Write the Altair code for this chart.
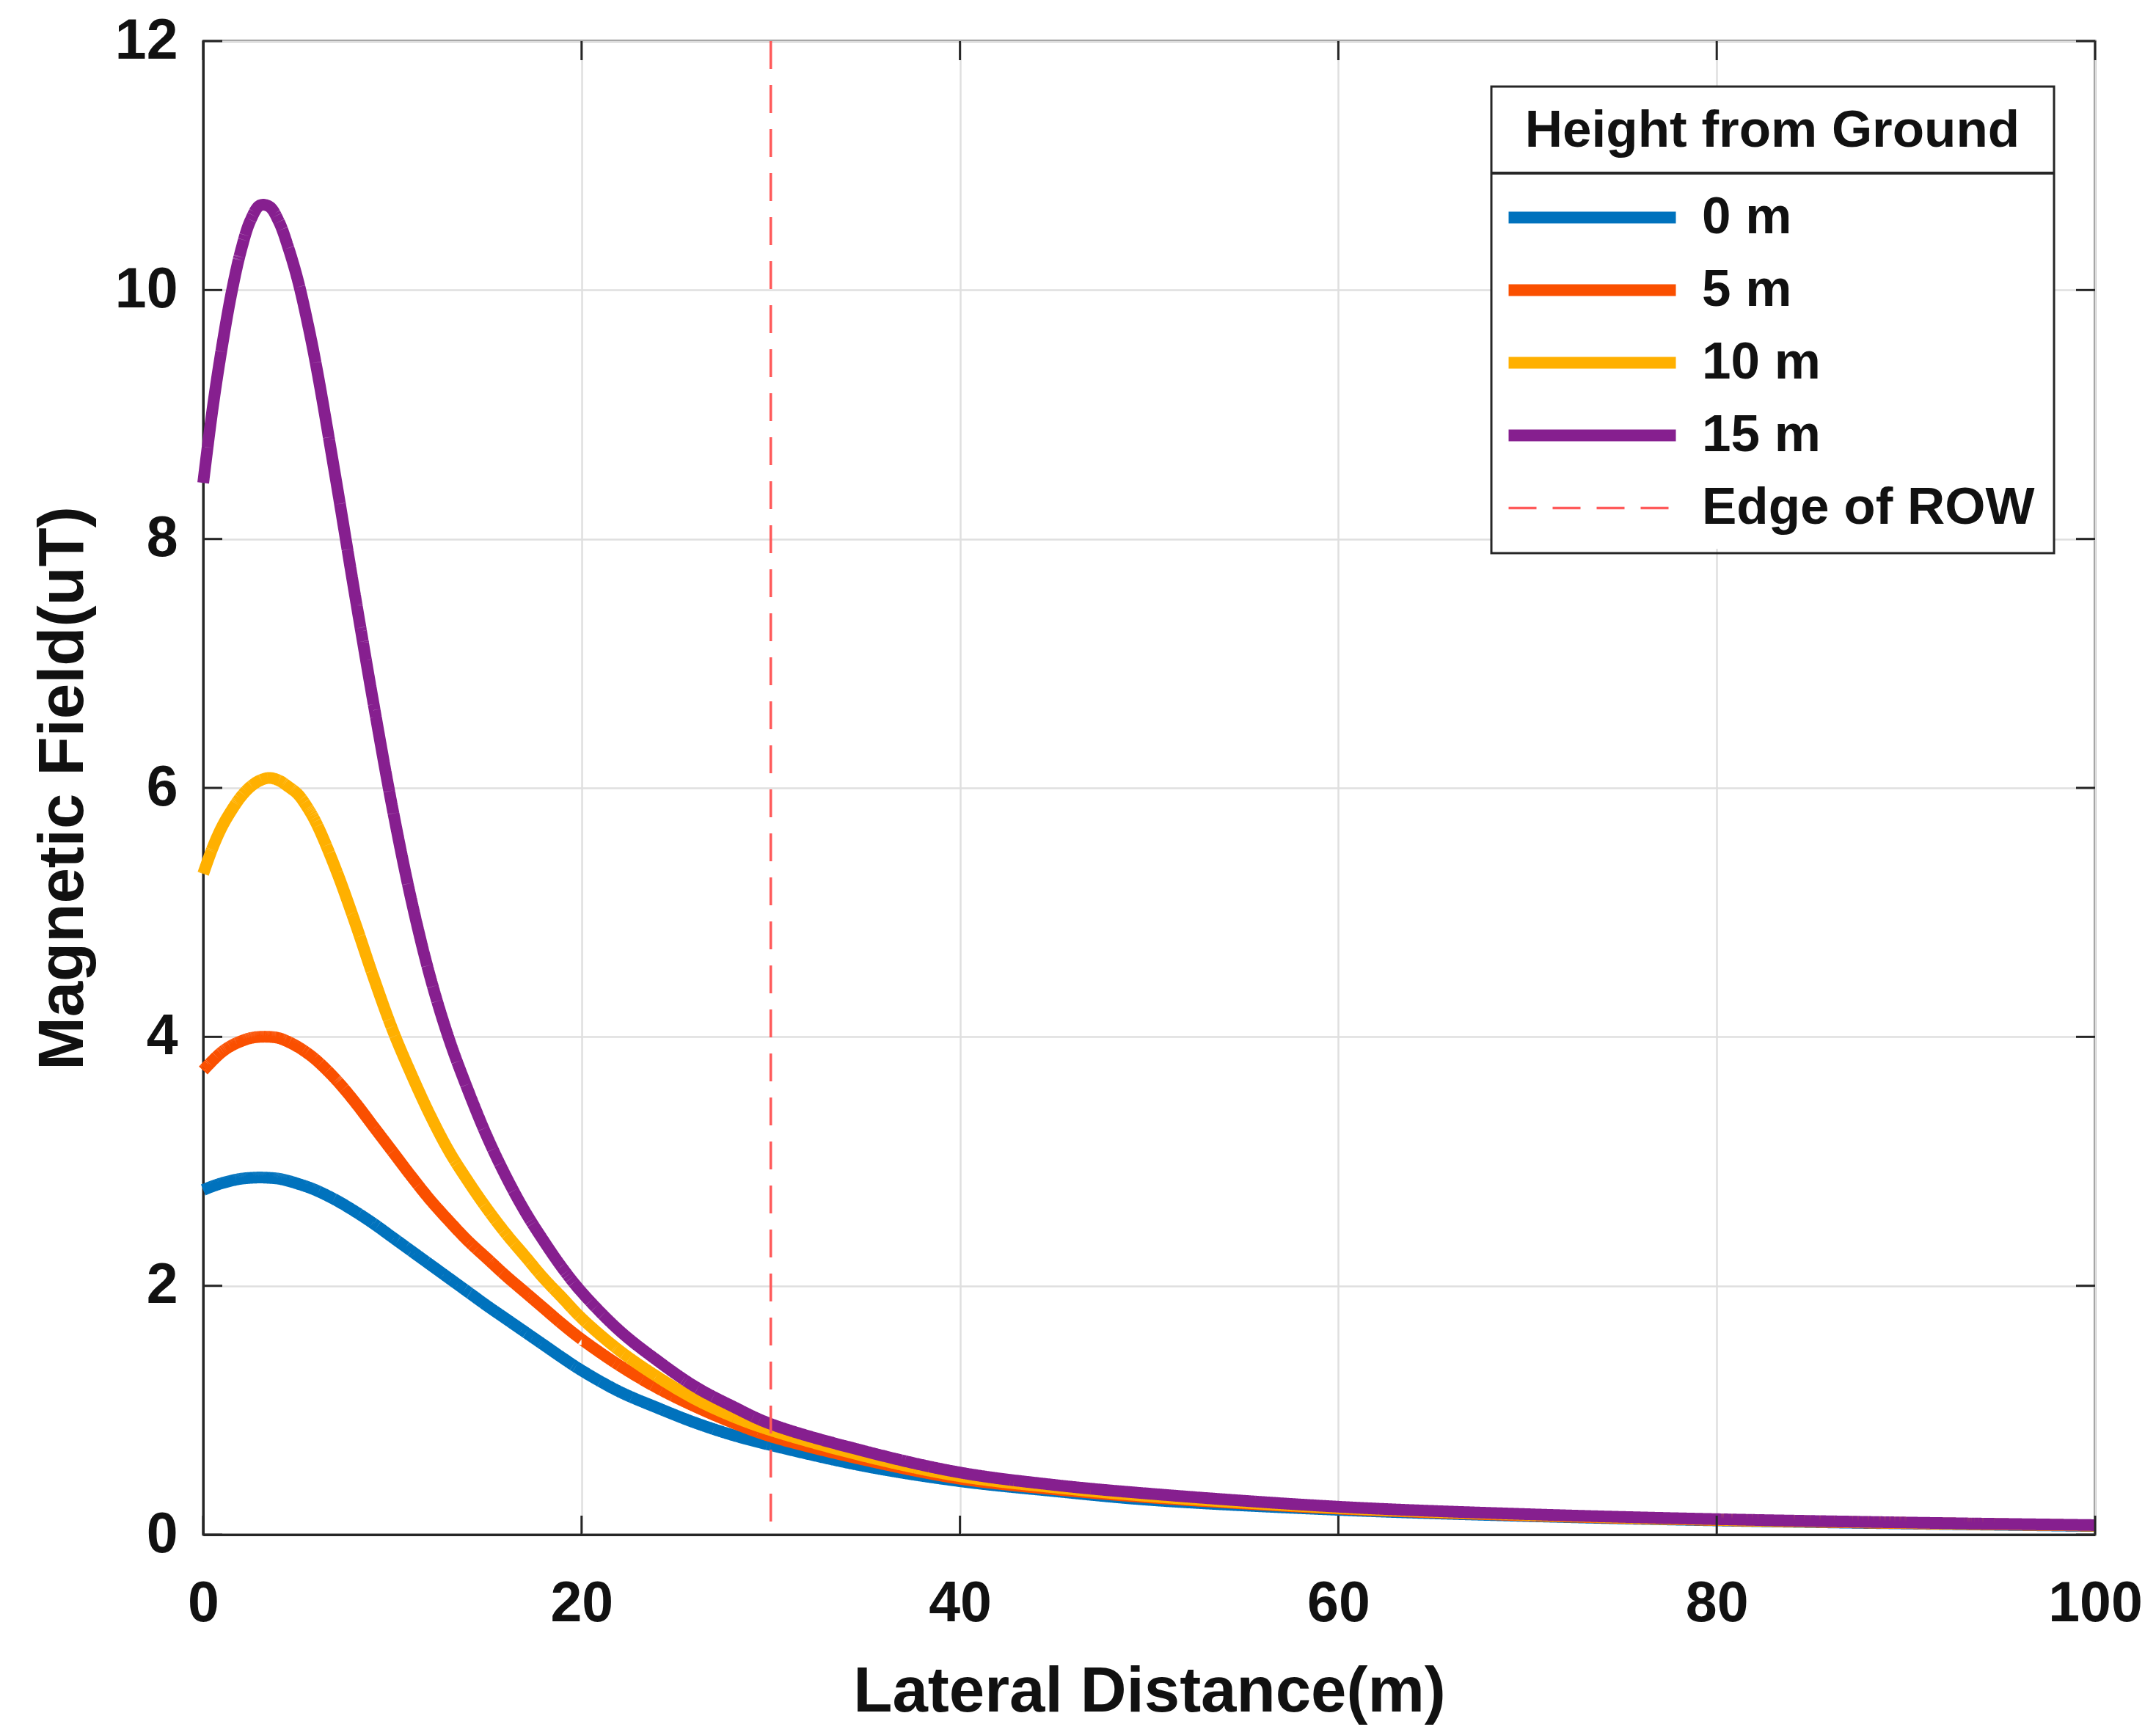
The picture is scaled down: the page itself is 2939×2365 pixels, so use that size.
import altair as alt
import pandas as pd

# ---- data ----
x_vals = [0, 0.5, 1, 1.5, 2, 2.5, 3, 3.5, 4, 4.5, 5, 5.5, 6, 7, 8, 9, 10, 11, 12, 13, 14, 15, 16, 17, 18, 19,
          20, 22, 24, 26, 28, 30, 35, 40, 45, 50, 60, 70, 80, 90, 100]

h0 = [2.77, 2.80, 2.825, 2.845, 2.86, 2.867, 2.87, 2.867, 2.86, 2.843, 2.82, 2.795, 2.765, 2.69, 2.60, 2.50, 2.39,
      2.28, 2.17, 2.06, 1.95, 1.84, 1.735, 1.63, 1.525, 1.42, 1.32, 1.15, 1.02, 0.90, 0.80, 0.72,
      0.55, 0.43, 0.35, 0.28, 0.20, 0.15, 0.115, 0.09, 0.07]
h5 = [3.73, 3.81, 3.88, 3.93, 3.965, 3.99, 4.00, 4.00, 3.99, 3.96, 3.92, 3.87, 3.81, 3.66, 3.48, 3.28, 3.08,
      2.88, 2.69, 2.52, 2.36, 2.22, 2.08, 1.95, 1.82, 1.69, 1.57, 1.36, 1.18, 1.03, 0.90, 0.79,
      0.60, 0.45, 0.365, 0.30, 0.21, 0.155, 0.118, 0.093, 0.073]
h10 = [5.31, 5.52, 5.69, 5.82, 5.93, 6.01, 6.06, 6.08, 6.06, 6.01, 5.95, 5.845, 5.71, 5.35, 4.93, 4.48, 4.06,
       3.70, 3.37, 3.08, 2.84, 2.62, 2.42, 2.24, 2.06, 1.90, 1.74, 1.48, 1.27, 1.09, 0.95, 0.84,
       0.63, 0.47, 0.38, 0.31, 0.215, 0.16, 0.12, 0.095, 0.074]
h15 = [8.45, 9.05, 9.55, 9.98, 10.32, 10.56, 10.68, 10.67, 10.55, 10.34, 10.08, 9.75, 9.37, 8.49, 7.57, 6.68, 5.84,
       5.10, 4.48, 3.98, 3.57, 3.20, 2.88, 2.60, 2.36, 2.14, 1.95, 1.64, 1.40, 1.19, 1.03, 0.89,
       0.67, 0.50, 0.40, 0.33, 0.225, 0.165, 0.125, 0.098, 0.077]

series_names = ["0 m", "5 m", "10 m", "15 m"]
series_values = [h0, h5, h10, h15]
row_name = "Edge of ROW"
row_x = [30]

x_ticks = [0, 20, 40, 60, 80, 100]
y_ticks = [0, 2, 4, 6, 8, 10, 12]

legend_domain = series_names + [row_name]
legend_colors = ["#0072BD", "#FA4F00", "#FFB000", "#861F8F", "#FF5A5A"]
legend_dashes = [[1, 0], [1, 0], [1, 0], [1, 0], [38, 22]]

W, H = 2579, 2036
FONT = "Liberation Sans"
INK = "#111111"
LINE_W = 16
ROW_W = 3.5

rows = []
for name, vals in zip(series_names, series_values):
    for xv, yv in zip(x_vals, vals):
        rows.append({"x": xv, "y": yv, "series": name})
df = pd.DataFrame(rows)
df_row = pd.DataFrame({"x": row_x, "series": [row_name]})
df_xt = pd.DataFrame({"t": x_ticks})
df_yt = pd.DataFrame({"t": y_ticks})

xscale = alt.Scale(domain=[0, 100], nice=False, zero=False)
yscale = alt.Scale(domain=[0, 12], nice=False, zero=False)

LX, LY, LW, LH = 1756, 62, 766, 630

legend = alt.Legend(
    title="Height from Ground",
    orient="none", legendX=LX, legendY=LY,
    padding=26, strokeColor="#262626",
    titleFont=FONT, titleFontSize=71, titleFontWeight="bold", titleColor=INK,
    titleAnchor="middle", titlePadding=46, titleLimit=3000,
    labelFont=FONT, labelFontSize=71, labelFontWeight="bold", labelColor=INK, labelLimit=3000,
    symbolType="M-1,0H5", symbolSize=5776,
    symbolStrokeWidth={"expr": f"datum.value === '{row_name}' ? {ROW_W} : {LINE_W}"},
    labelOffset=190, rowPadding=27,
)

color_enc = alt.Color("series:N", scale=alt.Scale(domain=legend_domain, range=legend_colors), legend=legend)
dash_enc = alt.StrokeDash("series:N", scale=alt.Scale(domain=legend_domain, range=legend_dashes), legend=legend)

x_axis = alt.Axis(values=x_ticks, title="Lateral Distance(m)", ticks=False, labelPadding=56,
                  labelFlush=False, titleY=240, titleBaseline="alphabetic")
y_axis = alt.Axis(values=y_ticks, title="Magnetic Field(uT)", ticks=False, labelPadding=35,
                  titleX=-165, titleY=H / 2, titleBaseline="alphabetic")

base_x = alt.X("x:Q", scale=xscale, axis=x_axis)
base_y = alt.Y("y:Q", scale=yscale, axis=y_axis)

layers = []
# white legend background & title divider (decoration)
layers.append(alt.Chart(df_xt).mark_rect(color="white").encode(
    x=alt.value(LX), x2=alt.value(LX + LW), y=alt.value(LY), y2=alt.value(LY + LH)))
layers.append(alt.Chart(df_xt).mark_rule(color="#262626", strokeWidth=3).encode(
    x=alt.value(LX), x2=alt.value(LX + LW), y=alt.value(180)))

for name in series_names:
    layers.append(
        alt.Chart(df[df.series == name]).mark_line(
            strokeWidth=LINE_W, interpolate="catmull-rom", strokeCap="butt", strokeJoin="round").encode(
            x=base_x, y=base_y, color=color_enc, strokeDash=dash_enc)
    )

layers.append(alt.Chart(df_row).mark_rule(strokeWidth=ROW_W).encode(
    x=alt.X("x:Q", scale=xscale, axis=x_axis), color=color_enc, strokeDash=dash_enc))

# inward tick marks (box style)
tick_col = "#262626"
layers.append(alt.Chart(df_yt).mark_rule(color=tick_col, strokeWidth=3).encode(
    y=alt.Y("t:Q", scale=yscale, axis=y_axis), x=alt.value(0), x2=alt.value(26)))
layers.append(alt.Chart(df_yt).mark_rule(color=tick_col, strokeWidth=3).encode(
    y=alt.Y("t:Q", scale=yscale, axis=y_axis), x=alt.value(W - 26), x2=alt.value(W)))
layers.append(alt.Chart(df_xt).mark_rule(color=tick_col, strokeWidth=3).encode(
    x=alt.X("t:Q", scale=xscale, axis=x_axis), y=alt.value(H - 26), y2=alt.value(H)))
layers.append(alt.Chart(df_xt).mark_rule(color=tick_col, strokeWidth=3).encode(
    x=alt.X("t:Q", scale=xscale, axis=x_axis), y=alt.value(0), y2=alt.value(26)))

chart = alt.layer(*layers).properties(
    width=W, height=H,
    autosize=alt.AutoSizeParams(type="none"),
    padding={"left": 269, "top": 48, "right": 75, "bottom": 265},
    background="white",
).configure_view(
    stroke="#262626", strokeWidth=3
).configure_axis(
    labelFont=FONT, labelFontSize=77, labelFontWeight="bold", labelColor=INK,
    titleFont=FONT, titleFontSize=87, titleFontWeight="bold", titleColor=INK,
    domainColor="#262626", domainWidth=3,
    gridColor="#DFDFDF", gridWidth=2.5,
).configure_legend(
    strokeWidth=3
)

chart.save("out.html", embed_options={"renderer": "svg", "actions": False})
